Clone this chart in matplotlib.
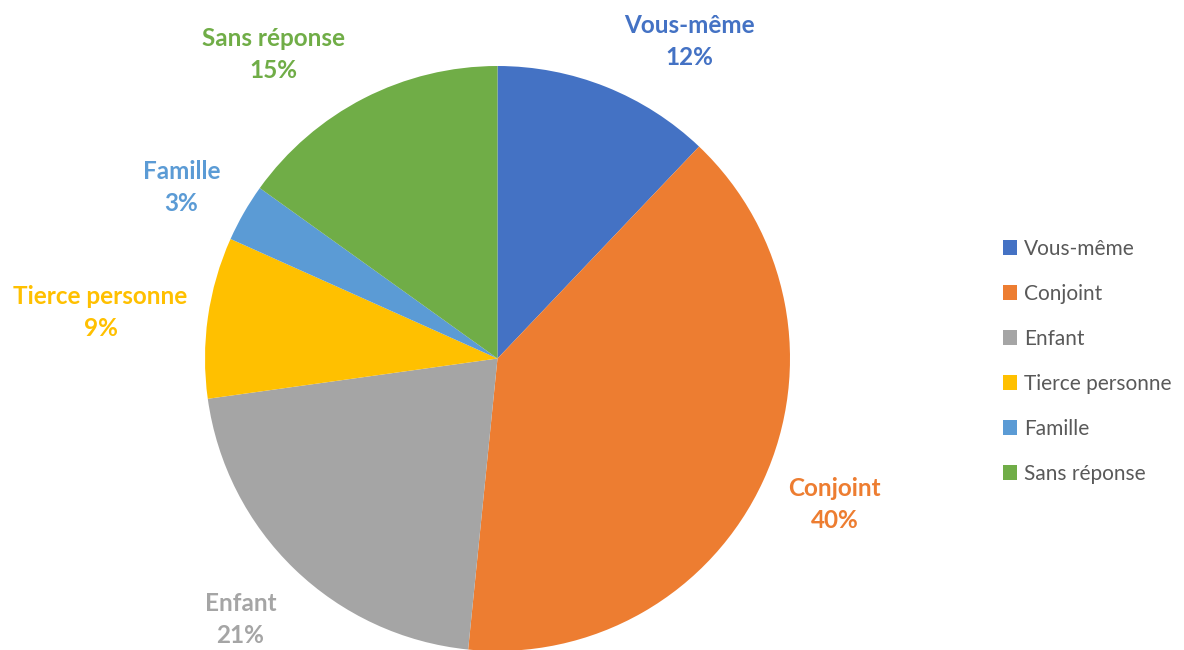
import matplotlib
matplotlib.use("Agg")
import matplotlib.pyplot as plt
import numpy as np

categories = ["Vous-même", "Conjoint", "Enfant", "Tierce personne", "Famille", "Sans réponse"]
values = [12.1, 39.5, 21.2, 8.9, 3.2, 15.1]
colors = ["#4472C4", "#ED7D31", "#A5A5A5", "#FFC000", "#5B9BD5", "#70AD47"]

plt.rcParams['font.family'] = ['Lato', 'DejaVu Sans']

W, H = 1184, 650
fig = plt.figure(figsize=(W / 100, H / 100), dpi=100)
cx, cy, r = 497.5, 358.5, 292.5
ax = fig.add_axes([(cx - r) / W, (H - cy - r) / H, 2 * r / W, 2 * r / H])
wedges, _ = ax.pie(values, colors=colors, startangle=90, counterclock=False,
                   radius=1, wedgeprops=dict(linewidth=0))
ax.set_xlim(-1, 1)
ax.set_ylim(-1, 1)
ax.set_aspect("equal")
ax.axis("off")

total = sum(values)
# label offsets (pixels from pie centre), converted to data units
label_pos = [(192, 317), (337, -146), (-257, -261), (-397, 46), (-316, 171), (-224, 304)]
for cat, v, c, (dx, dy) in zip(categories, values, colors, label_pos):
    pct = int(v / total * 100 + 0.5)
    ax.text(dx / r, dy / r, f"{cat}\n{pct}%", ha="center", va="center", color=c,
            fontsize=17.5, fontweight="bold", linespacing=1.5, clip_on=False)

leg = fig.legend(wedges, categories, loc="upper left",
                 bbox_to_anchor=(984 / W, 1 - 220 / H), frameon=False,
                 fontsize=15, handlelength=0.67, handleheight=0.67,
                 handletextpad=0.34, labelspacing=1.2)
for t in leg.get_texts():
    t.set_color("#595959")

fig.savefig("out.png", dpi=100)
